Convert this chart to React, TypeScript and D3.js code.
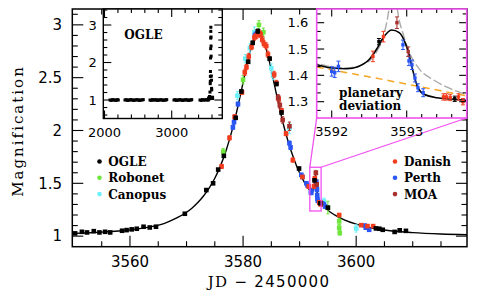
import React, { useEffect, useRef } from 'react';
import * as d3 from 'd3';

// [JD - 2450000, magnification, error]
type Pt = [number, number, number];

const ogle: Pt[] = [
  [3550.3, 1.026, 0.008], [3551.5, 1.041, 0.008], [3552.4, 1.035, 0.008], [3553.6, 1.047, 0.008],
  [3554.6, 1.035, 0.008], [3555.6, 1.041, 0.008], [3556.5, 1.035, 0.008], [3558.6, 1.051, 0.008],
  [3559.4, 1.057, 0.008], [3560.3, 1.064, 0.008], [3561.2, 1.07, 0.008], [3562.4, 1.089, 0.008],
  [3563.5, 1.082, 0.008], [3564.6, 1.089, 0.008], [3569.7, 1.212, 0.01], [3573.5, 1.436, 0.01],
  [3574.7, 1.5, 0.01], [3575.6, 1.63, 0.01], [3576.6, 1.76, 0.012], [3578.7, 2.12, 0.015],
  [3579.7, 2.37, 0.015], [3580.9, 2.65, 0.015], [3581.7, 2.83, 0.015], [3582.6, 2.94, 0.02],
  [3584.7, 2.68, 0.015], [3585.9, 2.44, 0.015], [3586.8, 2.17, 0.015], [3589.9, 1.64, 0.012],
  [3592.63, 1.528, 0.012], [3593.64, 1.311, 0.01], [3595.0, 1.27, 0.01], [3603.5, 1.073, 0.008],
  [3604.1, 1.07, 0.008], [3604.7, 1.06, 0.008], [3606.8, 1.04, 0.008], [3607.7, 1.055, 0.008],
  [3608.8, 1.05, 0.008],
];

const robonet: Pt[] = [
  [3576.5, 1.8, 0.03], [3580.0, 2.48, 0.04], [3582.8, 3.0, 0.04], [3583.6, 2.93, 0.04],
  [3595.0, 1.27, 0.06], [3597.0, 1.14, 0.03], [3597.0, 1.08, 0.03], [3597.1, 1.03, 0.02],
];

const canopus: Pt[] = [
  [3579.0, 2.33, 0.04], [3580.4, 2.68, 0.04], [3581.2, 2.78, 0.04], [3582.0, 2.93, 0.05],
  [3585.0, 2.59, 0.04], [3585.3, 2.52, 0.04], [3588.2, 2.02, 0.05], [3594.3, 1.33, 0.03],
  [3600.0, 1.073, 0.035],
];

const danish: Pt[] = [
  [3576.2, 1.66, 0.02], [3577.6, 1.93, 0.02], [3578.5, 2.13, 0.02], [3579.8, 2.36, 0.02],
  [3580.3, 2.55, 0.03], [3580.6, 2.6, 0.025], [3581.0, 2.7, 0.03], [3581.5, 2.79, 0.025],
  [3582.0, 2.88, 0.03], [3582.4, 2.9, 0.03], [3582.9, 2.92, 0.03], [3583.1, 2.91, 0.03],
  [3583.4, 2.86, 0.03], [3583.7, 2.82, 0.03], [3584.1, 2.8, 0.03], [3584.4, 2.72, 0.03],
  [3585.5, 2.53, 0.03], [3585.9, 2.45, 0.025], [3586.3, 2.3, 0.03], [3586.8, 2.19, 0.02],
  [3587.6, 1.97, 0.02], [3588.8, 1.72, 0.02], [3590.5, 1.56, 0.015], [3591.6, 1.47, 0.015],
  [3592.55, 1.472, 0.02], [3592.69, 1.547, 0.02], [3593.49, 1.318, 0.012], [3593.53, 1.318, 0.012],
  [3593.58, 1.316, 0.012], [3593.69, 1.318, 0.012], [3593.75, 1.3, 0.012], [3597.0, 1.2, 0.01],
  [3600.9, 1.104, 0.01], [3602.0, 1.095, 0.01], [3603.0, 1.095, 0.01],
];

const perth: Pt[] = [
  [3578.2, 2.03, 0.02], [3578.4, 2.08, 0.02], [3579.1, 2.25, 0.02], [3582.1, 2.9, 0.03],
  [3582.5, 2.92, 0.03], [3588.2, 1.88, 0.02], [3588.4, 1.84, 0.02], [3590.3, 1.58, 0.015],
  [3590.5, 1.56, 0.015], [3591.2, 1.5, 0.015], [3591.4, 1.48, 0.015], [3592.0, 1.415, 0.018],
  [3592.04, 1.41, 0.018], [3592.09, 1.434, 0.02], [3592.95, 1.516, 0.018], [3593.03, 1.455, 0.018],
  [3593.07, 1.44, 0.018], [3593.11, 1.39, 0.015], [3593.15, 1.353, 0.015], [3593.22, 1.334, 0.015],
  [3594.0, 1.31, 0.012], [3594.3, 1.3, 0.015], [3594.5, 1.28, 0.015], [3601.5, 1.1, 0.012],
  [3601.7, 1.08, 0.012], [3602.3, 1.06, 0.012],
];

const moa: Pt[] = [
  [3586.2, 2.31, 0.03], [3586.5, 2.24, 0.03], [3587.0, 2.1, 0.03], [3588.2, 2.04, 0.04],
  [3592.87, 1.6, 0.022], [3593.02, 1.49, 0.018],
];

// earlier OGLE seasons, shown in the small inset
const ogleBaseline: [number, number][] = [
  [2082, 1.0], [2100, 0.99], [2118, 1.01], [2136, 1.0], [2154, 1.0], [2172, 0.99], [2190, 1.01], [2205, 1.0],
  [2305, 1.0], [2323, 1.01], [2341, 0.99], [2359, 1.0], [2377, 1.0], [2395, 1.01], [2413, 1.0], [2431, 0.99],
  [2449, 1.0], [2467, 1.0], [2485, 1.01], [2503, 1.0], [2521, 0.99], [2539, 1.0], [2557, 1.0], [2577, 1.01],
  [2677, 1.0], [2695, 0.99], [2713, 1.01], [2731, 1.0], [2749, 1.0], [2767, 1.01], [2785, 0.99], [2803, 1.0],
  [2821, 1.0], [2839, 1.01], [2857, 1.0], [2875, 0.99], [2893, 1.0], [2911, 1.0], [2926, 1.01],
  [3034, 1.0], [3052, 1.01], [3070, 0.99], [3088, 1.0], [3106, 1.0], [3124, 1.01], [3142, 1.0], [3160, 0.99],
  [3178, 1.0], [3196, 1.0], [3214, 1.01], [3232, 1.0], [3250, 0.99], [3268, 1.0], [3284, 1.0], [3298, 1.01],
  [3421, 1.0], [3439, 0.99], [3457, 1.01], [3475, 1.0], [3493, 1.0], [3511, 1.01], [3529, 1.0], [3545, 1.0],
];

// best-fit planetary model (black)
const modelCurve: [number, number][] = [
  [3549.8, 1.025], [3552, 1.03], [3555, 1.038], [3558, 1.049], [3560, 1.059], [3562, 1.073],
  [3564, 1.092], [3566, 1.119], [3568, 1.165], [3570, 1.226], [3571, 1.267], [3572, 1.318],
  [3573, 1.38], [3574, 1.455], [3575, 1.548], [3576, 1.665], [3577, 1.811], [3578, 1.991],
  [3579, 2.208], [3580, 2.454], [3581, 2.697], [3582, 2.874], [3582.7, 2.92], [3583.5, 2.869],
  [3584.5, 2.688], [3585.5, 2.443], [3586.5, 2.199], [3587.5, 1.983], [3588.5, 1.805], [3589.5, 1.66],
  [3590.5, 1.544], [3591, 1.495], [3591.5, 1.452], [3591.8, 1.44], [3592.0, 1.428], [3592.2, 1.425],
  [3592.35, 1.433], [3592.5, 1.46], [3592.6, 1.5], [3592.68, 1.54], [3592.8, 1.572], [3592.9, 1.562],
  [3592.97, 1.53], [3593.03, 1.48], [3593.08, 1.42], [3593.14, 1.36], [3593.22, 1.33], [3593.4, 1.315],
  [3593.6, 1.31], [3593.8, 1.305], [3594.5, 1.268], [3595, 1.245], [3596, 1.207], [3597, 1.177],
  [3598, 1.151], [3600, 1.113], [3603, 1.075], [3606, 1.051], [3610, 1.033], [3615, 1.02], [3619.6, 1.013],
];

// alternative model (grey dashed, inset only)
const altModel: [number, number][] = [
  [3591.7, 1.45], [3591.8, 1.445], [3592.0, 1.432], [3592.2, 1.428], [3592.4, 1.44], [3592.5, 1.455],
  [3592.6, 1.49], [3592.68, 1.54], [3592.74, 1.61], [3592.78, 1.68], [3592.81, 1.72], [3592.84, 1.72],
  [3592.87, 1.66], [3592.9, 1.61], [3592.95, 1.56], [3593.04, 1.485], [3593.18, 1.42], [3593.35, 1.384],
  [3593.53, 1.356], [3593.8, 1.327], [3593.9, 1.32],
];

// single-lens curve without planet (orange dashed)
const singleLens: [number, number][] = [
  [3591.8, 1.432], [3592.3, 1.405], [3592.8, 1.378], [3593.3, 1.35], [3593.8, 1.322],
];

const xTickLabels = [3560, 3580, 3600];
const yTickLabels = [1, 1.5, 2, 2.5, 3];
const ogleXLabels = [2000, 3000];
const ogleYLabels = [1, 2, 3];
const zoomXLabels = [3592, 3593];
const zoomYLabels = [1.3, 1.4, 1.5, 1.6];

const colors: Record<string, string> = {
  OGLE: '#000000',
  Robonet: '#6ee63c',
  Canopus: '#6cf0fa',
  Danish: '#f23c1e',
  Perth: '#2a56f5',
  MOA: '#a8302c',
};

const drawOrder: [string, Pt[]][] = [
  ['Canopus', canopus], ['Robonet', robonet], ['Perth', perth],
  ['Danish', danish], ['MOA', moa], ['OGLE', ogle],
];

const SANS = 'DejaVu Sans, sans-serif';
const SERIF = 'DejaVu Serif, serif';

const near = (v: number, step: number) => Math.abs(v / step - Math.round(v / step)) < 1e-6;

function drawTicks(
  g: any, x: any, y: any,
  xs: number[], xMajor: number, ys: number[], yMajor: number,
  big: number, small: number,
) {
  const [x0, x1] = x.range();
  const [y0, y1] = y.range();
  xs.forEach((v) => {
    const px = x(v);
    const L = near(v, xMajor) ? big : small;
    g.append('line').attr('x1', px).attr('x2', px).attr('y1', y0).attr('y2', y0 - L);
    g.append('line').attr('x1', px).attr('x2', px).attr('y1', y1).attr('y2', y1 + L);
  });
  ys.forEach((v) => {
    const py = y(v);
    const L = near(v, yMajor) ? big : small;
    g.append('line').attr('x1', x0).attr('x2', x0 + L).attr('y1', py).attr('y2', py);
    g.append('line').attr('x1', x1).attr('x2', x1 - L).attr('y1', py).attr('y2', py);
  });
  g.selectAll('line').attr('stroke', '#000').attr('stroke-width', 1.1);
}

function drawPoints(g: any, data: Pt[], x: any, y: any, color: string, size: number, cap: number) {
  const s = g.append('g');
  s.selectAll('line.bar').data(data).join('line')
    .attr('x1', (d: Pt) => x(d[0])).attr('x2', (d: Pt) => x(d[0]))
    .attr('y1', (d: Pt) => y(d[1] - d[2])).attr('y2', (d: Pt) => y(d[1] + d[2]))
    .attr('stroke', color).attr('stroke-width', 1.1);
  [-1, 1].forEach((sgn) => {
    s.selectAll(`line.cap${sgn}`).data(data).join('line')
      .attr('x1', (d: Pt) => x(d[0]) - cap / 2).attr('x2', (d: Pt) => x(d[0]) + cap / 2)
      .attr('y1', (d: Pt) => y(d[1] + sgn * d[2])).attr('y2', (d: Pt) => y(d[1] + sgn * d[2]))
      .attr('stroke', color).attr('stroke-width', 1);
  });
  s.selectAll('rect').data(data).join('rect')
    .attr('x', (d: Pt) => x(d[0]) - size / 2).attr('y', (d: Pt) => y(d[1]) - size / 2)
    .attr('width', size).attr('height', size).attr('fill', color);
}

const App: React.FC = () => {
  const svgRef = useRef<SVGSVGElement | null>(null);

  useEffect(() => {
    const svg = d3.select(svgRef.current);
    svg.selectAll('*').remove();

    const main = { left: 72.3, right: 467, top: 9, bottom: 246.7 };
    const x = d3.scaleLinear().domain([3549.8, 3619.6]).range([main.left, main.right]);
    const y = d3.scaleLinear().domain([0.9, 3.15]).range([main.bottom, main.top]);

    const defs = svg.append('defs');
    defs.append('clipPath').attr('id', 'main-clip').append('rect')
      .attr('x', main.left).attr('y', main.top)
      .attr('width', main.right - main.left).attr('height', main.bottom - main.top);

    const line = (xs: any, ys: any) => d3.line<[number, number]>()
      .x((d) => xs(d[0])).y((d) => ys(d[1])).curve(d3.curveMonotoneX);

    // main model curve and data
    const plot = svg.append('g').attr('clip-path', 'url(#main-clip)');
    plot.append('path').datum(modelCurve).attr('d', line(x, y) as any)
      .attr('fill', 'none').attr('stroke', '#000').attr('stroke-width', 1.4);
    drawOrder.forEach(([name, data]) => drawPoints(plot, data, x, y, colors[name], 4.6, 3));

    // main frame and ticks
    svg.append('rect').attr('x', main.left).attr('y', main.top)
      .attr('width', main.right - main.left).attr('height', main.bottom - main.top)
      .attr('fill', 'none').attr('stroke', '#000').attr('stroke-width', 1.5);
    drawTicks(svg.append('g'), x, y,
      d3.range(3555, 3619, 5), 20,
      d3.range(1, 3.11, 0.1).map((v) => +v.toFixed(2)), 0.5, 11, 5.5);

    svg.append('g').selectAll('text').data(xTickLabels).join('text')
      .attr('x', (d) => x(d)).attr('y', 267.3).attr('text-anchor', 'middle')
      .attr('font-family', SANS).attr('font-size', 15).text((d) => d);
    svg.append('g').selectAll('text').data(yTickLabels).join('text')
      .attr('x', 62).attr('y', (d) => y(d)).attr('dy', '0.35em').attr('text-anchor', 'end')
      .attr('font-family', SANS).attr('font-size', 15).text((d) => d);

    const xt = svg.append('text').attr('x', 269).attr('y', 286.7).attr('text-anchor', 'middle')
      .attr('font-family', SANS).attr('font-size', 15).attr('letter-spacing', 1.3);
    xt.append('tspan').attr('font-family', SERIF).text('JD');
    xt.append('tspan').text(' \u2212 2450000');

    svg.append('text').attr('transform', 'translate(23,131) rotate(-90)')
      .attr('text-anchor', 'middle').attr('font-family', SERIF).attr('font-size', 15)
      .attr('letter-spacing', 2).text('Magnification');

    // legends
    const legend = (names: string[], dx: number, tx: number) => {
      names.forEach((n, i) => {
        const by = [166, 182.3, 198.6][i];
        svg.append('circle').attr('cx', dx).attr('cy', by - 4.5).attr('r', 2.3).attr('fill', colors[n]);
        svg.append('text').attr('x', tx).attr('y', by).attr('font-family', SERIF)
          .attr('font-weight', 'bold').attr('font-size', 12).text(n);
      });
    };
    legend(['OGLE', 'Robonet', 'Canopus'], 99.5, 108.3);
    legend(['Danish', 'Perth', 'MOA'], 395, 404);

    // ---------- planetary zoom inset ----------
    const zb = { left: 316.7, right: 466.7, top: 9, bottom: 118 };
    const zx = d3.scaleLinear().domain([3591.8, 3593.8]).range([zb.left, zb.right]);
    const zy = d3.scaleLinear().domain([1.238, 1.652]).range([zb.bottom, zb.top]);
    const magenta = '#f050f0';

    // box on main plot plus connectors
    const bx0 = x(3591.8), bx1 = x(3593.8), by0 = y(1.652), by1 = y(1.238);
    svg.append('rect').attr('x', bx0).attr('y', by0).attr('width', bx1 - bx0).attr('height', by1 - by0)
      .attr('fill', 'none').attr('stroke', magenta).attr('stroke-width', 1.3);
    svg.append('line').attr('x1', bx0).attr('y1', by0).attr('x2', zb.left).attr('y2', zb.bottom)
      .attr('stroke', magenta).attr('stroke-width', 1.3);
    svg.append('line').attr('x1', bx1).attr('y1', by0).attr('x2', zb.right).attr('y2', zb.bottom)
      .attr('stroke', magenta).attr('stroke-width', 1.3);

    defs.append('clipPath').attr('id', 'zoom-clip').append('rect')
      .attr('x', zb.left).attr('y', zb.top).attr('width', zb.right - zb.left).attr('height', zb.bottom - zb.top);
    svg.append('rect').attr('x', zb.left).attr('y', zb.top).attr('width', zb.right - zb.left)
      .attr('height', zb.bottom - zb.top).attr('fill', '#fff');
    const zp = svg.append('g').attr('clip-path', 'url(#zoom-clip)');
    zp.append('path').datum(altModel).attr('d', line(zx, zy) as any).attr('fill', 'none')
      .attr('stroke', '#aaaaaa').attr('stroke-width', 1.4).attr('stroke-dasharray', '9,3');
    zp.append('path').datum(singleLens).attr('d', line(zx, zy) as any).attr('fill', 'none')
      .attr('stroke', '#f5a623').attr('stroke-width', 1.5).attr('stroke-dasharray', '7,5');
    zp.append('path').datum(modelCurve).attr('d', line(zx, zy) as any).attr('fill', 'none')
      .attr('stroke', '#000').attr('stroke-width', 1.6);
    drawOrder.forEach(([name, data]) => drawPoints(zp,
      data.filter((d) => d[0] > 3591.7 && d[0] < 3593.9), zx, zy, colors[name], 3.4, 4));

    drawTicks(svg.append('g'), zx, zy,
      d3.range(3592, 3593.75, 0.2).map((v) => +v.toFixed(1)), 1,
      d3.range(1.2667, 1.652, 0.1 / 3).map((v) => +v.toFixed(4)), 0.1, 7.5, 4);
    svg.append('rect').attr('x', zb.left).attr('y', zb.top).attr('width', zb.right - zb.left)
      .attr('height', zb.bottom - zb.top).attr('fill', 'none').attr('stroke', magenta).attr('stroke-width', 1.6);

    svg.append('g').selectAll('text').data(zoomXLabels).join('text')
      .attr('x', (d) => zx(d)).attr('y', 136).attr('text-anchor', 'middle')
      .attr('font-family', SANS).attr('font-size', 13).text((d) => d);
    svg.append('g').selectAll('text').data(zoomYLabels).join('text')
      .attr('x', 308.3).attr('y', (d) => zy(d)).attr('dy', '0.35em').attr('text-anchor', 'end')
      .attr('font-family', SANS).attr('font-size', 13).text((d) => d.toFixed(1));
    ['planetary', 'deviation'].forEach((t, i) => {
      svg.append('text').attr('x', 339).attr('y', 96.7 + i * 13.3).attr('font-family', SERIF)
        .attr('font-weight', 'bold').attr('font-size', 12).text(t);
    });

    // ---------- OGLE long-term inset ----------
    const ob = { left: 103.3, right: 222.3, top: 9, bottom: 118.5 };
    const ox = d3.scaleLinear().domain([1982, 3753]).range([ob.left, ob.right]);
    const oy = d3.scaleLinear().domain([0.507, 3.427]).range([ob.bottom, ob.top]);
    svg.append('rect').attr('x', ob.left).attr('y', ob.top).attr('width', ob.right - ob.left)
      .attr('height', ob.bottom - ob.top).attr('fill', '#fff');
    const allOgle: [number, number][] = [...ogleBaseline, ...ogle.map((d) => [d[0], d[1]] as [number, number])];
    svg.append('g').selectAll('rect').data(allOgle).join('rect')
      .attr('x', (d) => ox(d[0]) - 1.5).attr('y', (d) => oy(d[1]) - 1.5)
      .attr('width', 3).attr('height', 3).attr('fill', '#000');
    drawTicks(svg.append('g'), ox, oy,
      d3.range(2000, 3700, 200), 1000,
      d3.range(0.6, 3.41, 0.2).map((v) => +v.toFixed(1)), 1, 8, 4);
    svg.append('rect').attr('x', ob.left).attr('y', ob.top).attr('width', ob.right - ob.left)
      .attr('height', ob.bottom - ob.top).attr('fill', 'none').attr('stroke', '#000').attr('stroke-width', 1.4);
    svg.append('g').selectAll('text').data(ogleXLabels).join('text')
      .attr('x', (d) => ox(d)).attr('y', 136.7).attr('text-anchor', 'middle')
      .attr('font-family', SANS).attr('font-size', 13).text((d) => d);
    svg.append('g').selectAll('text').data(ogleYLabels).join('text')
      .attr('x', 96.7).attr('y', (d) => oy(d)).attr('dy', '0.35em').attr('text-anchor', 'end')
      .attr('font-family', SANS).attr('font-size', 13).text((d) => d);
    svg.append('text').attr('x', 124.3).attr('y', 39.3).attr('font-family', SERIF)
      .attr('font-weight', 'bold').attr('font-size', 12).text('OGLE');
  }, []);

  return (
    <div style={{ position: 'absolute', left: 0, top: 0 }}>
      <svg ref={svgRef} width={479} height={308} style={{ display: 'block', background: '#fff' }}
        role="img" aria-label="Magnification light curve" />
    </div>
  );
};

export default App;
